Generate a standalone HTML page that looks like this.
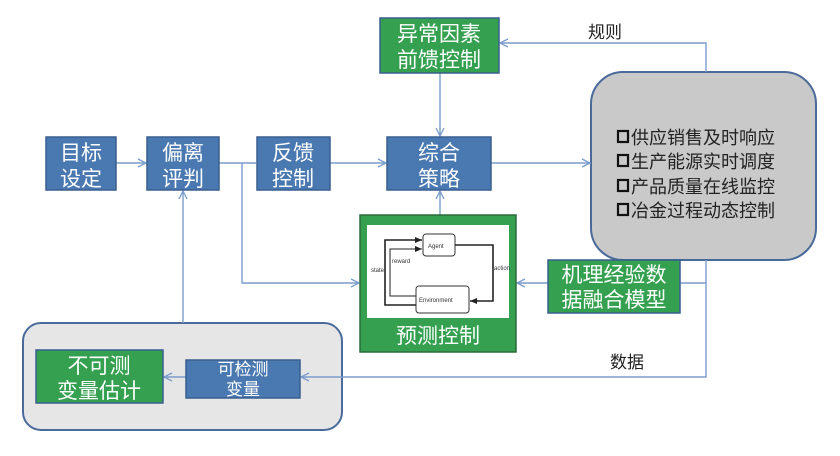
<!DOCTYPE html>
<html><head><meta charset="utf-8"><style>
body{margin:0;background:#fff;width:840px;height:456px;overflow:hidden}
svg{display:block}
text{font-family:"Liberation Sans","Noto Sans CJK SC",sans-serif}
</style></head><body>
<svg width="840" height="456" viewBox="0 0 840 456" xmlns="http://www.w3.org/2000/svg">
<defs><marker id="a" markerWidth="10" markerHeight="10" refX="9" refY="5" orient="auto" markerUnits="userSpaceOnUse"><path d="M1,1 L9,5 L1,9" fill="none" stroke="#7a9ccc" stroke-width="1.3"/></marker>
<marker id="b" markerWidth="8" markerHeight="8" refX="7" refY="4" orient="auto" markerUnits="userSpaceOnUse"><path d="M0,1 L7,4 L0,7z" fill="#222"/></marker></defs>
<rect x="591" y="72" width="225" height="188" rx="32" fill="#c9c9c9" stroke="#4a6a9a" stroke-width="2"/>
<rect x="23" y="323" width="319" height="107" rx="18" fill="#e6e6e6" stroke="#4a6a9a" stroke-width="2"/>
<g stroke="#7a9ccc" stroke-width="1.4" fill="none">
<line x1="116" y1="163" x2="146" y2="163" marker-end="url(#a)"/>
<line x1="219" y1="163" x2="256" y2="163"/>
<polyline points="242,163 242,283 359,283" marker-end="url(#a)"/>
<line x1="330" y1="163" x2="386" y2="163" marker-end="url(#a)"/>
<line x1="491" y1="163" x2="590" y2="163" marker-end="url(#a)"/>
<line x1="440" y1="73" x2="440" y2="136" marker-end="url(#a)"/>
<line x1="440" y1="215" x2="440" y2="191" marker-end="url(#a)"/>
<polyline points="706,72 706,43 500,43" marker-end="url(#a)"/>
<polyline points="706,260 706,377 301,377" marker-end="url(#a)"/>
<line x1="706" y1="283" x2="680" y2="283"/>
<line x1="548" y1="283" x2="517" y2="283" marker-end="url(#a)"/>
<line x1="186" y1="377" x2="164" y2="377" marker-end="url(#a)"/>
<line x1="183" y1="323" x2="183" y2="191" marker-end="url(#a)"/>
</g>
<g fill="#4a78b0" stroke="#3a5f8f" stroke-width="1.5">
<rect x="46" y="137" width="70" height="53"/>
<rect x="147" y="137" width="72" height="53"/>
<rect x="257" y="137" width="73" height="53"/>
<rect x="387" y="137" width="104" height="53"/>
<rect x="186" y="360" width="114" height="38"/>
</g>
<g fill="#34a050" stroke="#3a5f8f" stroke-width="1.5">
<rect x="380" y="18" width="119" height="55"/>
<rect x="548" y="260" width="132" height="53"/>
<rect x="36" y="350" width="127" height="53"/>
<rect x="360" y="215" width="156" height="137" stroke="#2d6a3a"/>
</g>
<rect x="367" y="225" width="142" height="93" fill="#fff"/>
<g font-size="21" fill="#fff" text-anchor="middle">
<text x="81" y="160">目标</text><text x="81" y="186">设定</text>
<text x="183" y="160">偏离</text><text x="183" y="186">评判</text>
<text x="293" y="160">反馈</text><text x="293" y="186">控制</text>
<text x="439" y="160">综合</text><text x="439" y="186">策略</text>
<text x="439" y="41">异常因素</text><text x="439" y="67">前馈控制</text>
<text x="614" y="282">机理经验数</text><text x="614" y="307">据融合模型</text>
<text x="99" y="373">不可测</text><text x="99" y="398">变量估计</text>
<text x="438" y="343">预测控制</text>
</g>
<g font-size="17" fill="#fff" text-anchor="middle"><text x="243" y="375">可检测</text><text x="243" y="395">变量</text></g>
<g font-size="17" fill="#222"><text x="588" y="38">规则</text><text x="610" y="368">数据</text></g>
<g font-size="18" fill="#222">
<text x="631" y="144">供应销售及时响应</text><text x="631" y="168">生产能源实时调度</text>
<text x="631" y="193">产品质量在线监控</text><text x="631" y="217">冶金过程动态控制</text>
</g>
<g fill="none" stroke="#111" stroke-width="2.2">
<rect x="618" y="131" width="10" height="11"/><rect x="618" y="155" width="10" height="11"/>
<rect x="618" y="180" width="10" height="11"/><rect x="618" y="204" width="10" height="11"/>
</g>
<g stroke="#333" fill="#fff" stroke-width="1">
<rect x="423" y="234" width="32" height="22" rx="3"/>
<rect x="416" y="286" width="53" height="27" rx="3"/>
</g>
<g stroke="#222" stroke-width="1.6" fill="none">
<polyline points="455,245 493,245 493,301 470,301" marker-end="url(#b)"/>
<polyline points="416,305 385,305 385,240 422,240" marker-end="url(#b)"/>
<polyline points="416,296 390,296 390,249 422,249" stroke-width="1" marker-end="url(#b)"/>
</g>
<g font-size="6" fill="#333"><text x="428" y="248">Agent</text><text x="419" y="302">Environment</text>
<text x="371" y="272">state</text><text x="392" y="263">reward</text><text x="494" y="270">action</text></g>
</svg>
</body></html>
